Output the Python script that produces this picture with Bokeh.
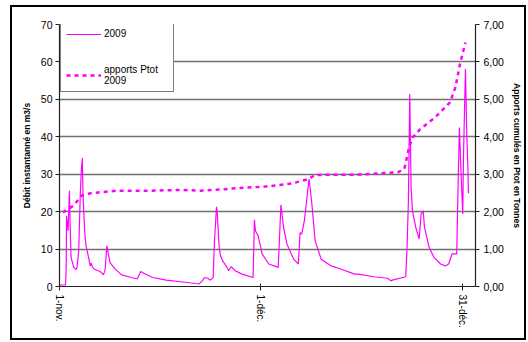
from bokeh.plotting import figure
from bokeh.models import Range1d, LinearAxis, FixedTicker, Legend, LegendItem
from bokeh.embed import file_html
from bokeh.resources import INLINE

# Débit instantané (m3/s), days since 1 Nov 2009
days = [0.0, 0.9, 1.0, 1.05, 1.28, 1.48, 1.62, 1.72, 2.12, 2.46, 2.61, 2.86, 3.1, 3.25, 3.4,
        3.5, 3.74, 3.94, 4.33, 4.58, 4.73, 4.92, 5.22, 6.06, 6.55, 6.8, 7.05, 7.3, 7.53,
        8.27, 9.26, 10.7, 11.6, 12.1, 12.7, 13.9, 15.9, 18.4, 20.3, 20.8, 21.3, 21.6,
        22.1, 22.5, 22.9, 23.1, 23.4, 23.5, 23.8, 24.0, 24.3, 25.0, 25.2, 25.6, 26.2,
        27.2, 28.85, 29.05, 29.2, 29.6, 30.2, 31.2, 32.6, 33.0, 33.4, 33.9, 34.9, 35.6,
        35.85, 36.1, 36.5, 36.7, 37.1, 37.2, 37.6, 38.1, 39.0, 40.5, 42.0, 44.0, 44.5,
        46.9, 48.9, 49.4, 49.6, 51.6, 51.8, 52.0, 52.2, 52.3, 52.4, 52.6, 53.1, 53.6,
        53.9, 54.2, 54.4, 55.1, 55.8, 56.8, 57.5, 58.0, 58.5, 59.2, 59.4, 59.6, 59.85,
        60.1, 60.2, 60.5, 60.6, 60.7, 60.85, 60.95]
debit = [0.4, 0.4, 5.0, 18.9, 14.9, 25.6, 14.0, 7.8, 5.1, 4.5, 5.0, 9.5, 24.8, 31.0, 34.3,
         24.8, 15.0, 11.0, 7.8, 5.5, 6.2, 5.2, 4.6, 4.0, 3.1, 4.5, 10.9, 8.5, 6.4,
         4.7, 3.1, 2.4, 2.0, 4.0, 3.4, 2.4, 1.7, 1.2, 0.8, 0.7, 1.5, 2.4,
         2.2, 1.7, 2.4, 12.2, 21.3, 20.0, 10.4, 8.2, 6.9, 5.0, 4.2, 5.3, 4.2,
         3.3, 2.4, 17.8, 14.9, 13.6, 8.7, 6.0, 5.1, 21.8, 15.8, 11.3, 7.3, 6.0,
         14.4, 14.0, 17.6, 20.7, 27.4, 28.7, 22.3, 12.2, 7.3, 5.5, 4.6, 3.3, 3.3,
         2.6, 2.2, 1.5, 1.7, 2.6, 10.4, 22.9, 51.4, 39.0, 26.5, 20.2, 15.8, 12.7,
         19.4, 20.2, 15.8, 10.4, 7.8, 6.0, 5.5, 6.0, 8.7, 8.7, 26.5, 42.5, 30.0,
         19.4, 33.8, 58.1, 49.7, 40.8, 32.7, 24.9]

# Apports cumulés Ptot (tonnes)
ptot_days = [0.5, 2.1, 3.3, 4.6, 8.5, 13.4, 18.4, 20.8, 24.8, 25.7, 30.7, 34.6, 37.1, 38.1,
             44.5, 50.4, 51.4, 52.1, 52.6, 53.8, 56.0, 58.2, 59.0, 59.7, 60.5]
ptot = [1.98, 2.16, 2.43, 2.49, 2.56, 2.56, 2.58, 2.56, 2.60, 2.62, 2.67, 2.75, 2.87, 2.98,
        2.99, 3.05, 3.14, 3.72, 3.98, 4.21, 4.52, 4.92, 5.32, 5.95, 6.52]

x_ticks = [0, 30, 60]
x_labels = ["1-nov.", "1-déc.", "31-déc."]
y_ticks = [0, 10, 20, 30, 40, 50, 60, 70]
y2_ticks = [0, 1, 2, 3, 4, 5, 6, 7]
y2_labels = ["0,00", "1,00", "2,00", "3,00", "4,00", "5,00", "6,00", "7,00"]

FONT = "Liberation Sans"
MAG = "#FF00FF"

p = figure(width=512, height=331, output_backend="svg", toolbar_location=None,
           x_range=Range1d(0, 62), y_range=Range1d(0, 70),
           min_border_left=47, min_border_right=45, min_border_top=17,
           min_border_bottom=52, background_fill_color="white",
           border_fill_color="white")
p.styles = {"outline": "2px solid black", "margin-left": "12px", "margin-top": "7px"}
p.extra_y_ranges = {"ptot": Range1d(0, 7)}
p.outline_line_color = None

p.xgrid.visible = False
p.ygrid.grid_line_color = "#707070"
p.ygrid.grid_line_width = 1.3
p.ygrid.ticker = FixedTicker(ticks=y_ticks)

# x axis
xa = p.xaxis[0]
xa.ticker = FixedTicker(ticks=x_ticks)
xa.major_label_overrides = {t: l for t, l in zip(x_ticks, x_labels)}
xa.major_label_orientation = "vertical"
xa.major_label_text_font = FONT
xa.major_label_text_font_size = "10px"
xa.major_label_text_color = "black"
xa.major_tick_in = 3
xa.major_tick_out = 4
xa.minor_tick_line_color = None
xa.axis_line_color = "#202020"
xa.axis_line_width = 1.2
xa.major_tick_line_color = "#202020"
xa.major_label_standoff = 4

# left axis
ya = p.yaxis[0]
ya.ticker = FixedTicker(ticks=y_ticks)
ya.major_label_text_font = FONT
ya.major_label_text_font_size = "10.5px"
ya.major_label_text_color = "black"
ya.major_tick_in = 0
ya.major_tick_out = 4
ya.minor_tick_line_color = None
ya.axis_line_color = "#202020"
ya.axis_line_width = 1.2
ya.major_tick_line_color = "#202020"
ya.major_label_standoff = 3
ya.axis_label = "Débit instantanné en m3/s"
ya.axis_label_text_font = FONT
ya.axis_label_text_font_size = "8.5px"
ya.axis_label_text_font_style = "bold"
ya.axis_label_text_color = "black"
ya.axis_label_standoff = 6

# right axis
ra = LinearAxis(y_range_name="ptot", ticker=FixedTicker(ticks=y2_ticks))
ra.major_label_overrides = {t: l for t, l in zip(y2_ticks, y2_labels)}
ra.major_label_text_font = FONT
ra.major_label_text_font_size = "10.5px"
ra.major_label_text_color = "black"
ra.major_tick_in = 0
ra.major_tick_out = 4
ra.minor_tick_line_color = None
ra.axis_line_color = "#202020"
ra.axis_line_width = 1.2
ra.major_tick_line_color = "#202020"
ra.major_label_standoff = 4
ra.axis_label = "Apports cumulés en Ptot en Tonnes"
ra.axis_label_text_font = FONT
ra.axis_label_text_font_size = "8.5px"
ra.axis_label_text_font_style = "bold"
ra.axis_label_text_color = "black"
ra.axis_label_standoff = 5
p.add_layout(ra, "right")

flow = p.line(days, debit, line_color=MAG, line_width=1.2)
cum = p.line(ptot_days, ptot, y_range_name="ptot", line_color=MAG, line_width=2.5,
             line_dash="4 4")

legend = Legend(items=[LegendItem(label="2009", renderers=[flow]),
                       LegendItem(label="apports Ptot\n2009", renderers=[cum])],
                location=(1, 194), padding=5, spacing=25, margin=0,
                glyph_width=35, glyph_height=10, label_standoff=3, label_width=64,
                label_height=10,
                label_text_font=FONT, label_text_font_size="10px",
                label_text_line_height=1.4,
                label_text_color="black",
                border_line_color="black", border_line_width=1,
                background_fill_color="white", background_fill_alpha=1.0)
p.add_layout(legend)

open("out.html", "w").write(file_html(p, INLINE))
